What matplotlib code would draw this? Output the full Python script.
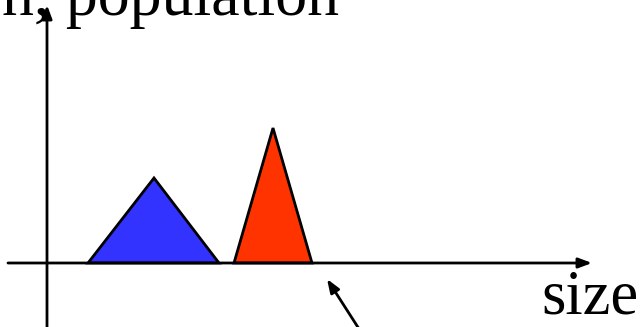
import matplotlib.pyplot as plt
from matplotlib.patches import Polygon

# two size distributions sketched as triangles: (left, peak, right, height)
names = ["blue", "red"]
left = [88, 234]
peak = [154, 273]
right = [219, 312]
height = [85, 135]
colors = ["#3333ff", "#ff3300"]

base_y = 64
y_axis_x = 47

fig = plt.figure(figsize=(6.4, 3.27), dpi=100)
ax = fig.add_axes([0, 0, 1, 1])
ax.set_xlim(0, 640)
ax.set_ylim(0, 327)
ax.axis("off")

for i in range(len(names)):
    tri = Polygon([[left[i], base_y], [peak[i], base_y + height[i]], [right[i], base_y]],
                  closed=True, facecolor=colors[i], edgecolor="black", lw=2, zorder=2)
    ax.add_patch(tri)

# axes arrows
arrow = dict(arrowstyle="-|>,head_length=0.8,head_width=0.3", color="black", lw=2,
             shrinkA=0, shrinkB=0)
ax.annotate("", xy=(592, base_y), xytext=(8, base_y), arrowprops=arrow, zorder=3)
ax.annotate("", xy=(y_axis_x, 322), xytext=(y_axis_x, -5), arrowprops=arrow, zorder=3)

# pointer to the right edge of the red triangle
ax.annotate("", xy=(327, 48), xytext=(361, -5), arrowprops=arrow, zorder=3)

ax.text(2, 312, "n, population", fontsize=46, family="Liberation Serif",
        ha="left", va="baseline")
ax.text(639, 14, "size", fontsize=45, family="Liberation Serif",
        ha="right", va="baseline")

fig.savefig("out.png", dpi=100)
